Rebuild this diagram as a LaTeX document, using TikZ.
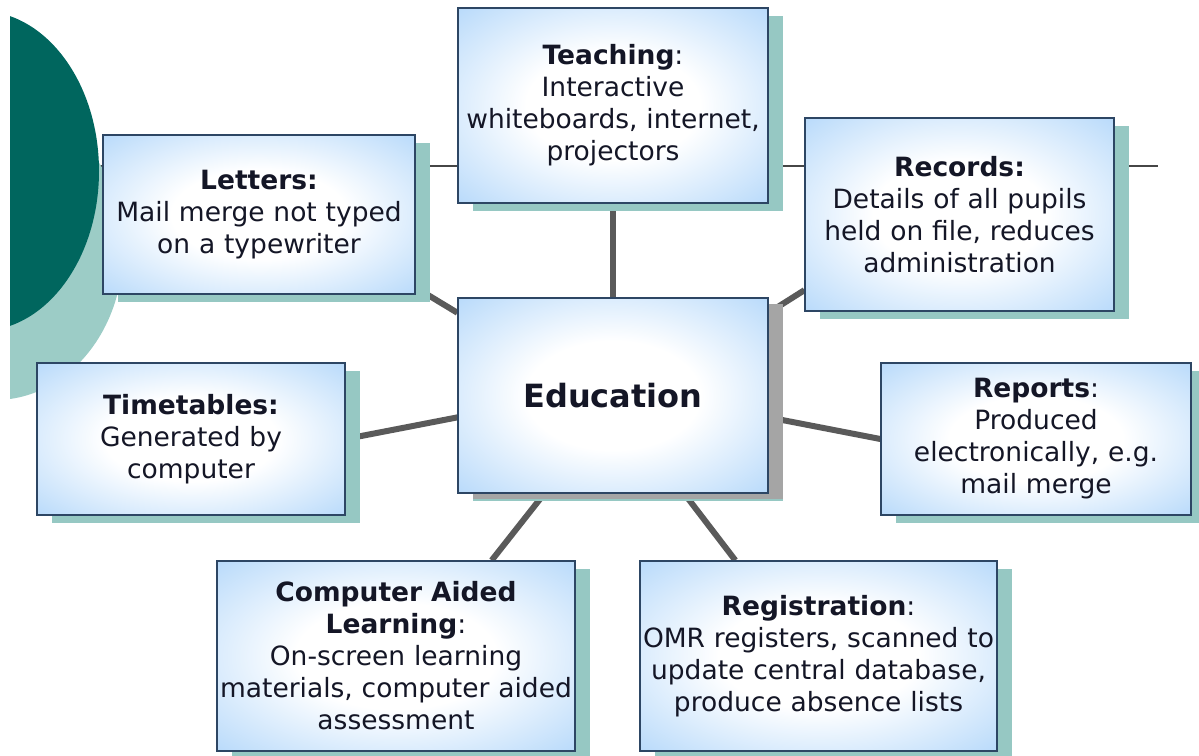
\documentclass[tikz,border=0pt]{standalone}
\usepackage{fontspec}
\setmainfont{DejaVu Sans}
\usetikzlibrary{shadows,backgrounds}
\definecolor{boxblue}{RGB}{150,200,248}
\definecolor{bordercol}{RGB}{45,70,100}
\definecolor{shadowteal}{RGB}{150,200,195}
\definecolor{shadowgray}{RGB}{165,165,165}
\definecolor{darkteal}{RGB}{0,102,94}
\definecolor{lightteal}{RGB}{156,204,198}
\definecolor{linkgray}{RGB}{90,90,90}
\definecolor{thingray}{RGB}{70,70,70}
\definecolor{txt}{RGB}{20,22,38}
\pgfdeclareradialshading{boxshade}{\pgfpoint{0bp}{0bp}}{color(0bp)=(white); color(14bp)=(white); color(46bp)=(boxblue); color(100bp)=(boxblue)}
\begin{document}
\begin{tikzpicture}[x=1pt,y=-1pt,
  box/.style={draw=bordercol, line width=1.3pt, shade, shading=boxshade, align=center, inner sep=1pt, text=txt,
    font=\fontsize{26.5}{32}\selectfont,
    drop shadow={shadow xshift=15pt, shadow yshift=-8pt, fill=shadowteal, opacity=1}},
  link/.style={draw=linkgray, line width=6pt},
  rule/.style={draw=thingray, line width=1.2pt}]
\useasboundingbox (0,0) rectangle (1199,755);

\node[box, minimum width=310pt, minimum height=195pt, text width=306pt] (teach) at (613,105.5)
  {\textbf{Teaching}:\\Interactive\\whiteboards, internet,\\projectors};
\node[box, minimum width=312pt, minimum height=159pt, text width=308pt] (letters) at (259,214.5)
  {\textbf{Letters:}\\Mail merge not typed\\on a typewriter};
\node[box, minimum width=309pt, minimum height=193pt, text width=305pt] (records) at (959.5,214.5)
  {\textbf{Records:}\\Details of all pupils\\held on file, reduces\\administration};
\node[box, drop shadow={shadow xshift=15pt, shadow yshift=-6pt, fill=shadowgray, opacity=1}, minimum width=310pt, minimum height=195pt, text width=306pt, font=\fontsize{32}{38}\selectfont\bfseries] (edu) at (613,395.5)
  {Education};
\node[box, minimum width=308pt, minimum height=152pt, text width=304pt] (tt) at (191,439)
  {\textbf{Timetables:}\\Generated by\\computer};
\node[box, minimum width=310pt, minimum height=152pt, text width=306pt] (reports) at (1036,439)
  {\textbf{Reports}:\\Produced\\electronically, e.g.\\mail merge};
\node[box, minimum width=358pt, minimum height=190pt, text width=356pt] (cal) at (396,656)
  {\textbf{Computer Aided}\\\textbf{Learning}:\\On-screen learning\\materials, computer aided\\assessment};
\node[box, minimum width=357pt, minimum height=190pt, text width=355pt] (reg) at (818.5,656)
  {\textbf{Registration}:\\OMR registers, scanned to\\update central database,\\produce absence lists};

\begin{scope}[on background layer]
  \coordinate (ruleL) at (100,166);
  \coordinate (ruleR) at (1158,166);
  \draw[rule] (ruleL) -- (ruleR);
  \begin{scope}
    \clip (10,0) rectangle (300,755);
    \fill[lightteal] (-5,250) ellipse [x radius=128pt, y radius=150pt];
    \fill[darkteal] (-20,171) ellipse [x radius=119pt, y radius=160pt];
  \end{scope}
  \draw[link] (teach.south) -- (edu.north);
  \draw[link] (letters.335) -- (edu.152);
  \draw[link] (records.206) -- (edu.28);
  \draw[link] (tt.east) -- (edu.188);
  \draw[link] (reports.west) -- (edu.352.5);
  \draw[link] (cal.45) -- (edu.235);
  \draw[link] (reg.131) -- (edu.306);
\end{scope}
\end{tikzpicture}
\end{document}
